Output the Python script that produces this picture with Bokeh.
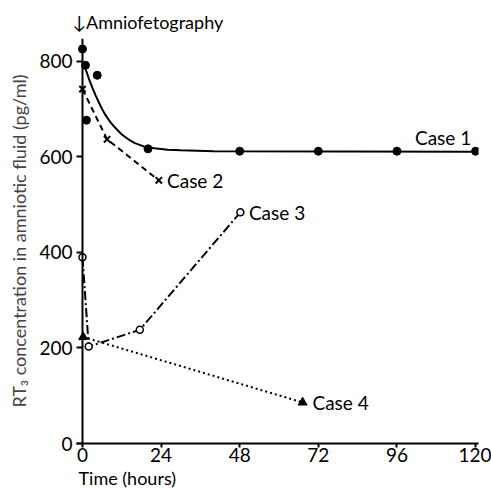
from bokeh.plotting import figure
from bokeh.models import Range1d, Span, Label, FixedTicker, Title
from bokeh.embed import file_html
from bokeh.resources import INLINE

FONT = "Lato"

# Case 1: observed points and fitted curve
case1_t = [0, 0.9, 4.5, 1.2, 20, 48, 72, 96, 120]
case1_v = [826, 792, 771, 677, 617, 612, 612, 612, 612]
curve_t = [0.4, 1, 2, 3, 4, 5, 6, 7, 8.5, 10, 12, 14, 16, 18.7, 22, 26, 30, 40, 120]
curve_v = [796, 783, 763, 745, 729, 714, 700, 688, 673, 661, 647, 637, 629, 622, 618, 615, 614, 612, 611]

# Case 2
case2_t = [0, 7.5, 23.3]
case2_v = [742, 637, 551]

# Case 3
case3_t = [0, 1.9, 17.5, 48.2]
case3_v = [390, 203, 238, 484]

# Case 4
case4_t = [0.2, 67.2]
case4_v = [223, 86]

x_ticks = [0, 24, 48, 72, 96, 120]
y_ticks = [0, 200, 400, 600, 800]

p = figure(width=491, height=488, output_backend="svg", toolbar_location=None,
           x_range=Range1d(-1.83, 120.9), y_range=Range1d(0, 848),
           min_border_left=76, min_border_right=13, min_border_top=38, min_border_bottom=45)
p.outline_line_color = None
p.grid.visible = False
p.background_fill_color = "white"

# title above (event marker)
p.title = Title(text="\u2193Amniofetography", align="left", offset=-4, standoff=11,
                text_font=FONT, text_font_size="18px", text_font_style="normal",
                text_color="black")

# axes
p.xaxis.ticker = FixedTicker(ticks=x_ticks)
p.yaxis.ticker = FixedTicker(ticks=y_ticks)
for ax in (p.xaxis[0], p.yaxis[0]):
    ax.major_label_text_font = FONT
    ax.major_label_text_font_size = "19px"
    ax.major_label_text_color = "black"
    ax.minor_tick_line_color = None
    ax.major_tick_line_color = "black"
    ax.major_tick_line_width = 2
    ax.axis_line_width = 2
    ax.axis_line_color = "black"
p.xaxis.major_tick_out = 4
p.xaxis.major_tick_in = 0
p.xaxis.major_label_standoff = 0
p.yaxis.axis_line_color = None
p.yaxis.major_tick_in = 6
p.yaxis.major_tick_out = 0
p.yaxis.major_label_standoff = 4
p.yaxis.axis_label = "RT\u2083 concentration in amniotic fluid (pg/ml)"
p.yaxis.axis_label_text_font = FONT
p.yaxis.axis_label_text_font_size = "18px"
p.yaxis.axis_label_text_font_style = "normal"
p.yaxis.axis_label_standoff = 6

p.add_layout(Title(text="Time (hours)", align="left", offset=2, standoff=0,
                   text_font=FONT, text_font_size="18px", text_font_style="normal",
                   text_color="black"), "below")

# vertical line at t = 0
p.add_layout(Span(location=0, dimension="height", line_color="black", line_width=2))

# Case 1
p.line(curve_t, curve_v, line_color="black", line_width=2)
p.scatter(case1_t, case1_v, marker="circle", size=8, color="black")

# Case 2
p.line(case2_t, case2_v, line_color="black", line_width=2, line_dash="6 4")
p.scatter(case2_t, case2_v, marker="x", size=9, line_color="black", line_width=2)

# Case 3
p.line(case3_t, case3_v, line_color="black", line_width=2, line_dash="9 3 2 3")
p.scatter(case3_t, case3_v, marker="circle", size=7, line_color="black", line_width=1.5, fill_color="white")

# Case 4
p.line(case4_t, case4_v, line_color="black", line_width=2, line_dash="2 3")
p.scatter(case4_t, case4_v, marker="triangle", size=9, color="black")

def lab(x, y, txt, align="left", base="middle"):
    p.add_layout(Label(x=x, y=y, text=txt, text_font=FONT, text_font_size="19px",
                       text_align=align, text_baseline=base, text_color="black"))

lab(101.5, 640, "Case 1")
lab(25.8, 551, "Case 2")
lab(50.8, 484, "Case 3")
lab(70.2, 86, "Case 4")

open("out.html", "w").write(file_html(p, INLINE))
